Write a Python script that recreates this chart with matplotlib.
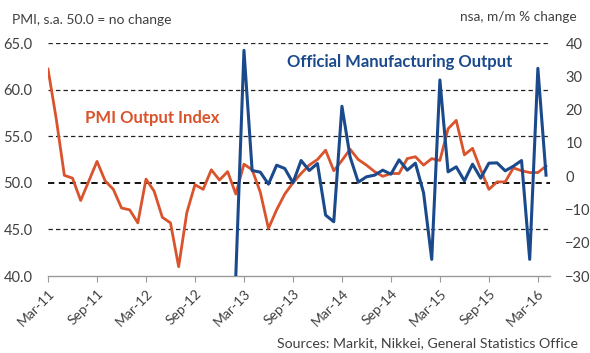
import matplotlib.pyplot as plt
import numpy as np

plt.rcParams['font.family'] = ['Lato', 'DejaVu Sans']

# monthly, Mar-11 .. Apr-16
tick_labels = ['Mar-11', 'Sep-11', 'Mar-12', 'Sep-12', 'Mar-13', 'Sep-13',
               'Mar-14', 'Sep-14', 'Mar-15', 'Sep-15', 'Mar-16']

pmi_output = [62.2, 56.9, 50.8, 50.5, 48.1, 50.2, 52.3, 50.2, 49.3, 47.3,
              47.1, 45.7, 50.4, 49.1, 46.3, 45.7, 41.0, 46.8, 49.8, 49.3,
              51.4, 50.3, 51.2, 48.8, 52.0, 51.4, 49.0, 45.1, 47.1, 48.8,
              50.0, 51.0, 51.9, 52.5, 53.5, 51.3, 52.4, 53.6, 52.5, 51.9,
              51.2, 50.7, 51.0, 51.0, 52.6, 52.8, 51.9, 52.6, 52.4, 55.8,
              56.7, 53.0, 53.7, 51.4, 49.3, 50.1, 50.1, 51.6, 51.3, 51.1,
              51.1, 51.8]

# official output starts Feb-13
official_start = 23
official_output = [-30.0, 37.8, 1.7, 1.2, -2.4, 3.3, 2.3, -2.0, 4.7, 1.7,
                   3.8, -11.7, -13.7, 21.0, 5.8, -1.8, -0.2, 0.3, 1.8, 0.6,
                   4.9, 1.8, 3.9, -5.0, -25.0, 28.9, 1.3, 2.8, -1.4, 3.6,
                   -0.6, 3.9, 4.0, 1.6, 3.0, 4.7, -25.0, 32.4, 0.3]

orange = '#D9532C'
blue = '#1B4A8C'
text_col = '#404040'

fig = plt.figure(figsize=(5.9, 3.53), dpi=100)
ax = fig.add_axes([0.0814, 0.2181, 0.851, 0.660])
ax2 = ax.twinx()

x_pmi = np.arange(len(pmi_output))
x_off = np.arange(official_start, official_start + len(official_output))

# gridlines
for v in [45, 55, 60, 65]:
    ax.axhline(v, color='#222222', lw=0.9, ls=(0, (3.5, 2.5)), zorder=1)
ax.axhline(50, color='black', lw=1.3, ls=(0, (3.5, 2.5)), zorder=1)

ax.plot(x_pmi, pmi_output, color=orange, lw=2.0, zorder=3)
ax2.plot(x_off, official_output, color=blue, lw=2.2, zorder=4)

ax.set_xlim(0, 61.5)
ax.set_ylim(40, 65)
ax2.set_ylim(-30, 40)

ax.set_yticks(np.arange(40, 66, 5))
ax.set_yticklabels(['%.1f' % v for v in np.arange(40, 66, 5)])
ax2.set_yticks(np.arange(-30, 41, 10))

ax.set_xticks(np.arange(0, 61, 6))
ax.set_xticklabels(tick_labels, rotation=45, ha='right', rotation_mode='anchor')

for a in (ax, ax2):
    for s in ['left', 'right', 'top']:
        a.spines[s].set_visible(False)
ax2.spines['bottom'].set_visible(False)
ax.spines['bottom'].set_color('#9a9a9a')
ax.spines['bottom'].set_linewidth(1.0)

ax.tick_params(axis='y', length=0, pad=11, labelsize=10.5, labelcolor=text_col)
ax2.tick_params(axis='y', length=0, pad=11, labelsize=10.5, labelcolor=text_col)
ax.tick_params(axis='x', length=4, color='#9a9a9a', pad=4, labelsize=10,
               labelcolor=text_col)

fig.text(12 / 590, 1 - 20 / 353, 'PMI, s.a. 50.0 = no change', fontsize=10,
         color=text_col, va='center', ha='left')
fig.text(577 / 590, 1 - 17 / 353, 'nsa, m/m % change', fontsize=9.8,
         color=text_col, va='center', ha='right')
fig.text(85 / 590, 1 - 118 / 353, 'PMI Output Index', fontsize=12,
         color=orange, fontweight='bold', va='center', ha='left')
fig.text(287 / 590, 1 - 62 / 353, 'Official Manufacturing Output', fontsize=12,
         color=blue, fontweight='bold', va='center', ha='left')
fig.text(578 / 590, 1 - 343 / 353, 'Sources: Markit, Nikkei, General Statistics Office',
         fontsize=10.2, color=text_col, va='center', ha='right')

plt.savefig('out.png', dpi=100)
